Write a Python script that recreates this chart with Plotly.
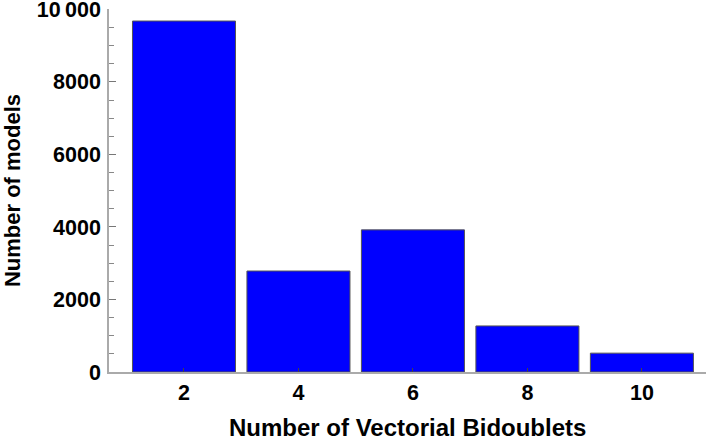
import plotly.graph_objects as go

# Number of vectorial bidoublets vs. number of models
bidoublets = [2, 4, 6, 8, 10]
models = [9680, 2785, 3920, 1270, 520]
y_ticks = [0, 2000, 4000, 6000, 8000, 10000]
y_tick_labels = ["0", "2000", "4000", "6000", "8000", "10\u2009000"]

FONT = "Liberation Sans, Arial, sans-serif"

fig = go.Figure()
fig.add_trace(go.Bar(
    x=bidoublets,
    y=models,
    width=1.8,
    marker=dict(color="#0000ff", line=dict(color="#555555", width=1)),
    showlegend=False,
))

fig.update_layout(
    width=706, height=438,
    margin=dict(l=109, r=0, t=9, b=66),
    plot_bgcolor="white",
    paper_bgcolor="white",
    font=dict(family=FONT, size=21, color="black", weight="bold"),
)
fig.update_xaxes(
    range=[0.69, 11.12],
    tickvals=bidoublets,
    ticks="inside", ticklen=4, tickcolor="#444444", tickwidth=1,
    showline=True, linecolor="#aaaaaa", linewidth=1.5,
    showgrid=False, zeroline=False, automargin=False,
    tickfont=dict(family=FONT, size=21.5, weight="bold"),
)
fig.update_yaxes(
    range=[0, 10012],
    tickvals=y_ticks, ticktext=y_tick_labels,
    ticks="inside", ticklen=7, tickcolor="#777777", tickwidth=1,
    minor=dict(dtick=500, ticks="inside", ticklen=5, tickcolor="#888888"),
    showline=True, linecolor="#aaaaaa", linewidth=1.5,
    showgrid=False, zeroline=False, automargin=False,
    ticklabelstandoff=2, ticklabeloverflow="allow",
    tickfont=dict(family=FONT, size=21.5, weight="bold"),
    title=dict(text="Number of models", standoff=12,
               font=dict(family=FONT, size=22, weight="bold")),
)

# x title as an annotation: the axis title gets squeezed into the bottom margin
fig.add_annotation(
    text="Number of Vectorial Bidoublets",
    xref="paper", yref="paper", x=0.5, y=0,
    xanchor="center", yanchor="top", yshift=-40,
    showarrow=False,
    font=dict(family=FONT, size=24, weight="bold", color="black"),
)

# drop the browser's default 8px body margin so the figure sits at (0, 0)
fig.write_html("out.html", config={"displayModeBar": False},
               post_script="document.body.style.margin = '0';")
